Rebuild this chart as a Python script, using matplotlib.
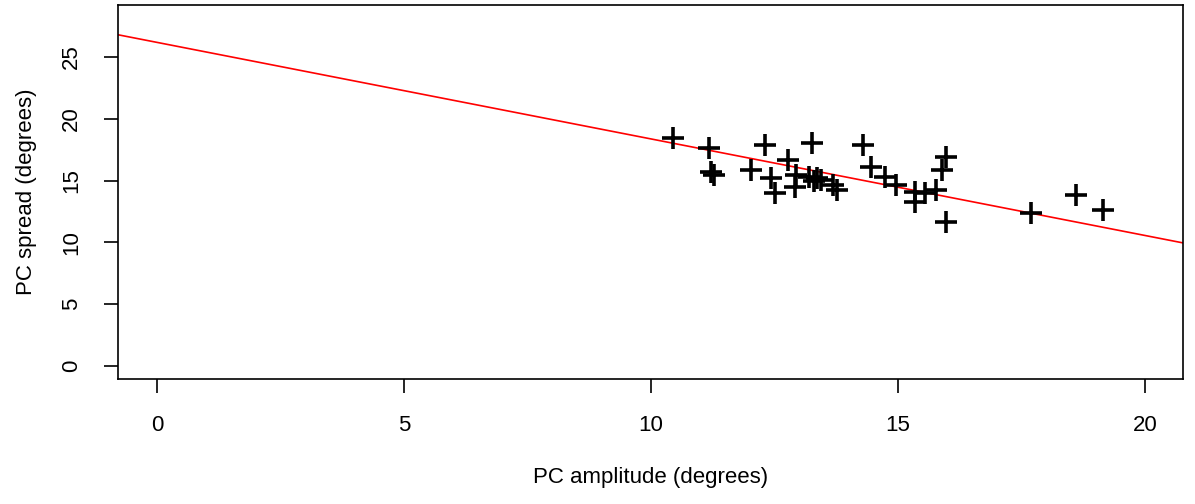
import matplotlib.pyplot as plt

plt.rcParams.update({
    "font.family": ["Liberation Sans", "DejaVu Sans"],
    "font.size": 16,
})

# PC amplitude vs PC spread
amplitude = [10.45, 11.18, 11.22, 11.27, 12.03, 12.31, 12.42, 12.51, 12.78,
             12.93, 12.92, 13.25, 13.20, 13.36, 13.45, 13.30, 13.77, 13.69,
             14.29, 14.45, 14.74, 14.96, 15.34, 15.34, 15.55, 15.77, 15.98,
             15.90, 15.98, 17.69, 18.60, 19.14]
spread = [18.46, 17.65, 15.70, 15.47, 15.87, 17.90, 15.20, 14.00, 16.68,
          15.47, 14.50, 18.06, 15.30, 15.20, 15.06, 15.00, 14.25, 14.66,
          17.90, 16.10, 15.30, 14.66, 14.10, 13.30, 14.00, 14.25, 16.90,
          15.87, 11.66, 12.39, 13.85, 12.63]

# fitted line (intercept, slope)
fit_intercept = 26.18
fit_slope = -0.781

x_ticks = [0, 5, 10, 15, 20]
y_ticks = [0, 5, 10, 15, 20, 25]
xlim = (-0.79, 20.77)
ylim = (-1.05, 29.2)

fig = plt.figure(figsize=(11.95, 5.04), dpi=100)
ax = fig.add_axes([0.0987, 0.248, 0.8913, 0.742])

ax.scatter(amplitude, spread, marker="+", s=260, linewidths=2.6,
           color="black", zorder=3)
ax.axline((0, fit_intercept), slope=fit_slope, color="red", lw=1.2, zorder=2)

ax.set_xlim(*xlim)
ax.set_ylim(*ylim)
ax.set_xticks(x_ticks)
ax.set_yticks(y_ticks)
ax.set_yticklabels([str(v) for v in y_ticks], rotation=90, va="center")
ax.tick_params(direction="out", length=10, width=1.2, labelsize=16)
ax.tick_params(axis="x", pad=16)
ax.tick_params(axis="y", pad=16)

for s in ax.spines.values():
    s.set_linewidth(1.2)

ax.set_xlabel("PC amplitude (degrees)", fontsize=16, labelpad=22)
ax.set_ylabel("PC spread (degrees)", fontsize=16, labelpad=17)

plt.savefig("out.png")
